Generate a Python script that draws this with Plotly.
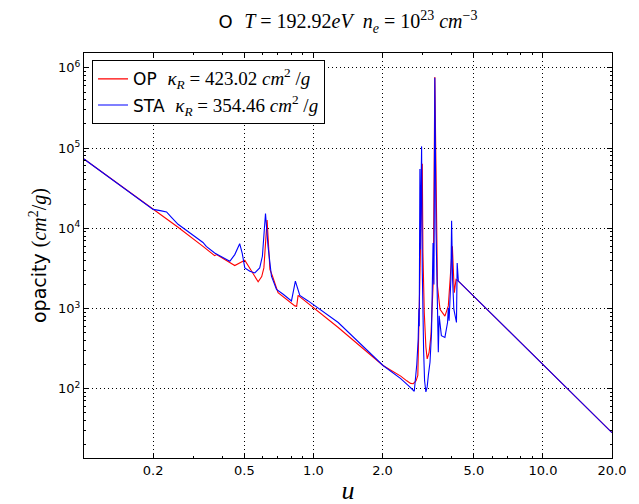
import plotly.graph_objects as go

# ---- data ----
op_u = [0.1, 0.2, 0.257, 0.330, 0.359, 0.371, 0.378, 0.454, 0.502, 0.540, 0.574, 0.595, 0.608,
        0.628, 0.646, 0.663, 0.701, 0.830, 0.845, 0.857, 0.948, 1.282, 2.01, 2.4, 2.55,
        2.65, 2.72, 2.80, 2.85, 2.90, 2.96, 2.98, 3.0, 3.04, 3.09, 3.13, 3.19, 3.25, 3.33,
        3.38, 3.43, 3.47, 3.56, 3.74, 3.87, 3.94, 4.03, 4.11, 4.18, 4.28, 10.0, 20.0]
op_kappa = [7.3e4, 1.72e4, 1.03e4, 5940, 4910, 4550, 4700, 3430, 3980, 2800, 2150, 2500, 3200,
            1.27e4, 3060, 2520, 1570, 1075, 1060, 1455, 1160, 578, 194, 143, 125,
            116, 115, 125, 146, 1570, 3.0e4, 6.37e4, 5000, 888, 330, 235, 280, 457, 2300,
            7.7e5, 2.71e4, 1900, 977, 800, 1075, 2300, 5940, 1570, 2300, 2190, 200, 28.2]

sta_u = [0.1, 0.2, 0.215, 0.229, 0.240, 0.257, 0.330, 0.341, 0.371, 0.432, 0.454, 0.477,
         0.489, 0.502, 0.528, 0.555, 0.583, 0.599, 0.618, 0.634, 0.656, 0.690, 0.738, 0.802,
         0.834, 0.872, 0.948, 1.282, 2.01, 2.4, 2.6, 2.75, 2.82, 2.86, 2.88, 2.89, 2.91, 2.92,
         2.96, 2.98, 3.02, 3.05, 3.09, 3.13, 3.17, 3.22, 3.27, 3.32, 3.35, 3.38, 3.42, 3.50,
         3.53, 3.61, 3.74, 3.84, 3.87, 3.90, 3.97, 4.00, 4.04, 4.09, 4.20, 4.23, 4.28, 10.0,
         20.0]
sta_kappa = [7.3e4, 1.72e4, 1.66e4, 1.6e4, 1.38e4, 1.12e4, 6650, 5940, 4910, 3870, 4690, 6410,
             4910, 3200, 2910, 2770, 3200, 4470, 1.53e4, 5940, 2520, 1730, 1500, 1240,
             2190, 1455, 1240, 667, 194, 133, 108, 92.6, 200, 416, 1000, 600, 5.5e4, 5440,
             1.05e5, 3000, 300, 125, 90.8, 105, 150, 213, 502, 6520, 1990, 7.55e5, 1.0e4, 284,
             807, 457, 435, 667, 1020, 700, 2300, 1.24e4, 2300, 977, 667, 3690, 2190, 200,
             28.2]

x_tick_vals = [0.2, 0.5, 1, 2, 5, 10, 20]
x_tick_text = ["0.2", "0.5", "1.0", "2.0", "5.0", "10.0", "20.0"]
x_minor_vals = [0.3, 0.4, 0.6, 0.7, 0.8, 0.9, 3, 4, 6, 7, 8, 9]
y_tick_vals = [1e2, 1e3, 1e4, 1e5, 1e6]
y_tick_text = ["10<sup>2</sup>", "10<sup>3</sup>", "10<sup>4</sup>", "10<sup>5</sup>", "10<sup>6</sup>"]
y_minor_vals = [k * 10 ** d for d in range(1, 6) for k in range(2, 10)]


def m(s, size):
    return f"<span style=\"font-family:'Liberation Serif';font-size:{size}px\">{s}</span>"


op_name = "OP  " + m("<i>κ</i><sub><i>R</i></sub> = 423.02 <i>cm</i><sup>2</sup> /<i>g</i>", 19)
sta_name = "STA  " + m("<i>κ</i><sub><i>R</i></sub> = 354.46 <i>cm</i><sup>2</sup> /<i>g</i>", 19)

fig = go.Figure()
fig.add_trace(go.Scatter(x=op_u, y=op_kappa, mode="lines", name=op_name,
                         line=dict(color="#ff0000", width=1.1), legendgroup="op"))
fig.add_trace(go.Scatter(x=sta_u, y=sta_kappa, mode="lines", name=sta_name,
                         line=dict(color="#0000ff", width=1.1), legendgroup="sta"))

title_txt = ("O  " + m("<i>T</i> = 192.92<i>eV</i>  <i>n</i><sub><i>e</i></sub> = 10<sup>23</sup>"
                       " <i>cm</i><sup>−3</sup>", 20))

axis_common = dict(
    type="log", showline=True, linecolor="black", linewidth=1, mirror="allticks",
    ticks="inside", ticklen=5, tickcolor="black", tickwidth=1,
    showgrid=True, gridcolor="black", gridwidth=1, griddash="1px,3px",
    zeroline=False, tickfont=dict(family="DejaVu Sans", size=13, color="black"),
)

fig.update_layout(
    width=639, height=504,
    margin=dict(l=76, r=35, t=45, b=51),
    paper_bgcolor="white", plot_bgcolor="white",
    font=dict(family="DejaVu Sans", color="black"),
    title=dict(text=title_txt, x=0.5, xref="paper", xanchor="center",
               y=1 - 14 / 504, yref="container", yanchor="middle",
               font=dict(size=18, family="DejaVu Sans", color="black")),
    legend=dict(x=0.0152, y=0.982, xanchor="left", yanchor="top",
                bordercolor="black", borderwidth=1, bgcolor="white",
                font=dict(size=17, family="DejaVu Sans", color="black"),
                traceorder="grouped", tracegroupgap=1),
    showlegend=True,
)

fig.update_xaxes(**axis_common, range=[-1, 1.30103],
                 tickmode="array", tickvals=x_tick_vals, ticktext=x_tick_text,
                 minor=dict(tickmode="array", tickvals=x_minor_vals, ticks="inside",
                            ticklen=2, tickcolor="black", showgrid=False),
                 title=dict(text=m("<i>u</i>", 26), font=dict(size=26), standoff=4))
fig.update_yaxes(**axis_common, range=[1.134, 6.186],
                 tickmode="array", tickvals=y_tick_vals, ticktext=y_tick_text,
                 minor=dict(tickmode="array", tickvals=y_minor_vals, ticks="inside",
                            ticklen=2, tickcolor="black", showgrid=False),
                 title=dict(text="opacity " + m("(<i>cm</i><sup>2</sup>/<i>g</i>)", 20),
                            font=dict(size=19), standoff=6))

fig.write_html("out.html")
